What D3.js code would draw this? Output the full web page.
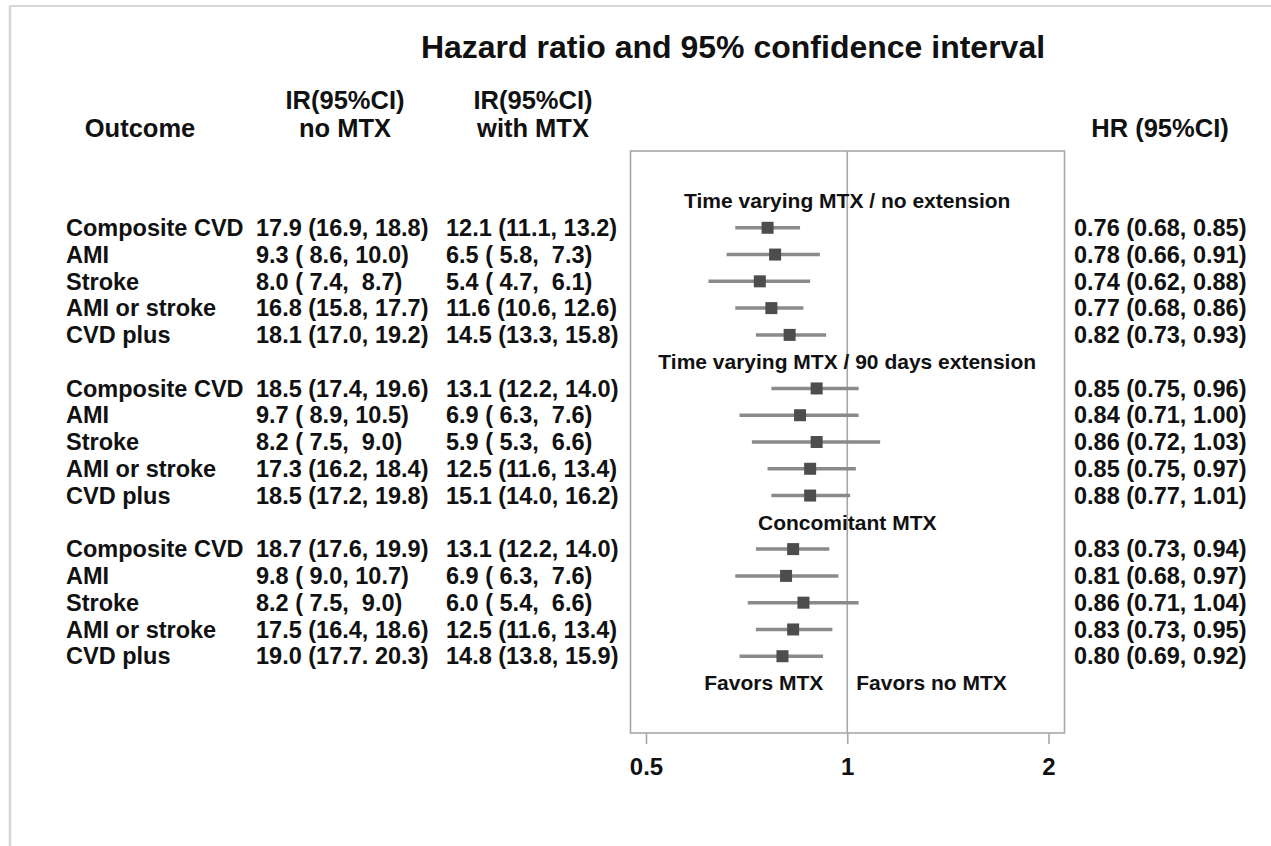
<!DOCTYPE html>
<html>
<head>
<meta charset="utf-8">
<script src="https://cdn.jsdelivr.net/npm/d3@7"></script>
<style>
  html, body { margin: 0; padding: 0; background: #ffffff; }
  svg text { font-family: "Liberation Sans", Arial, sans-serif; font-weight: bold; fill: #111; white-space: pre; }
</style>
</head>
<body>
<svg id="chart" width="1271" height="846"></svg>
<script>
// ---- data ----
const title = "Hazard ratio and 95% confidence interval";
const outcomes = ["Composite CVD", "AMI", "Stroke", "AMI or stroke", "CVD plus"];
const groups = ["Time varying MTX / no extension", "Time varying MTX / 90 days extension", "Concomitant MTX"];

const irNoMtx = [
  ["17.9 (16.9, 18.8)", "9.3 ( 8.6, 10.0)", "8.0 ( 7.4,  8.7)", "16.8 (15.8, 17.7)", "18.1 (17.0, 19.2)"],
  ["18.5 (17.4, 19.6)", "9.7 ( 8.9, 10.5)", "8.2 ( 7.5,  9.0)", "17.3 (16.2, 18.4)", "18.5 (17.2, 19.8)"],
  ["18.7 (17.6, 19.9)", "9.8 ( 9.0, 10.7)", "8.2 ( 7.5,  9.0)", "17.5 (16.4, 18.6)", "19.0 (17.7. 20.3)"]
];
const irWithMtx = [
  ["12.1 (11.1, 13.2)", "6.5 ( 5.8,  7.3)", "5.4 ( 4.7,  6.1)", "11.6 (10.6, 12.6)", "14.5 (13.3, 15.8)"],
  ["13.1 (12.2, 14.0)", "6.9 ( 6.3,  7.6)", "5.9 ( 5.3,  6.6)", "12.5 (11.6, 13.4)", "15.1 (14.0, 16.2)"],
  ["13.1 (12.2, 14.0)", "6.9 ( 6.3,  7.6)", "6.0 ( 5.4,  6.6)", "12.5 (11.6, 13.4)", "14.8 (13.8, 15.9)"]
];
const hrLabels = [
  ["0.76 (0.68, 0.85)", "0.78 (0.66, 0.91)", "0.74 (0.62, 0.88)", "0.77 (0.68, 0.86)", "0.82 (0.73, 0.93)"],
  ["0.85 (0.75, 0.96)", "0.84 (0.71, 1.00)", "0.86 (0.72, 1.03)", "0.85 (0.75, 0.97)", "0.88 (0.77, 1.01)"],
  ["0.83 (0.73, 0.94)", "0.81 (0.68, 0.97)", "0.86 (0.71, 1.04)", "0.83 (0.73, 0.95)", "0.80 (0.69, 0.92)"]
];
// plotted estimates [hr, lower, upper] as drawn in the picture
const hrPoint = [
  [0.76, 0.78, 0.74, 0.77, 0.82],
  [0.90, 0.85, 0.90, 0.88, 0.88],
  [0.83, 0.81, 0.86, 0.83, 0.80]
];
const hrLower = [
  [0.68, 0.66, 0.62, 0.68, 0.73],
  [0.77, 0.69, 0.72, 0.76, 0.77],
  [0.73, 0.68, 0.71, 0.73, 0.69]
];
const hrUpper = [
  [0.85, 0.91, 0.88, 0.86, 0.93],
  [1.04, 1.04, 1.12, 1.03, 1.01],
  [0.94, 0.97, 1.04, 0.95, 0.92]
];
const tickValues = [0.5, 1, 2];
const favorLabels = ["Favors MTX", "Favors no MTX"];

// ---- layout ----
const svg = d3.select("#chart");
const x = d3.scaleLog().domain([0.5, 2]).range([646, 1048.5]);
const slot = d3.scaleLinear().domain([0, 18]).range([201, 683]);
const frame = { left: x(0.5) - 15.5, right: x(2) + 16, top: 151, bottom: 733 };
const colLabel = 66, colIr1 = 256, colIr2 = 446, colHr = 1074;

// outer image border
svg.append("line").attr("x1", 9).attr("x2", 1271).attr("y1", 6).attr("y2", 6)
  .attr("stroke", "#d6d6d6").attr("stroke-width", 2);
svg.append("line").attr("x1", 10).attr("x2", 10).attr("y1", 6).attr("y2", 846)
  .attr("stroke", "#d6d6d6").attr("stroke-width", 2.5);

// title
svg.append("text").attr("x", 733).attr("y", 58).attr("text-anchor", "middle")
  .style("font-size", "32px").text(title);

// column headers
const hdr = svg.append("g").style("font-size", "25.5px").attr("text-anchor", "middle");
hdr.append("text").attr("x", 140).attr("y", 136.5).text("Outcome");
hdr.append("text").attr("x", 345).attr("y", 108.5).text("IR(95%CI)");
hdr.append("text").attr("x", 345).attr("y", 136.5).text("no MTX");
hdr.append("text").attr("x", 533).attr("y", 108.5).text("IR(95%CI)");
hdr.append("text").attr("x", 533).attr("y", 136.5).text("with MTX");
hdr.append("text").attr("x", 1160).attr("y", 136.5).text("HR (95%CI)");

// plot frame
svg.append("rect").attr("x", frame.left).attr("y", frame.top)
  .attr("width", frame.right - frame.left).attr("height", frame.bottom - frame.top)
  .attr("fill", "none").attr("stroke", "#a8a8a8").attr("stroke-width", 1.6);
svg.append("line").attr("x1", x(1)).attr("x2", x(1)).attr("y1", frame.top).attr("y2", frame.bottom)
  .attr("stroke", "#a8a8a8").attr("stroke-width", 1.6);

// axis
const axis = svg.append("g").attr("transform", `translate(0,${frame.bottom})`)
  .call(d3.axisBottom(x).tickValues(tickValues).tickFormat(d => String(d)).tickSize(11).tickPadding(14));
axis.select(".domain").remove();
axis.selectAll(".tick line").attr("stroke", "#a8a8a8").attr("stroke-width", 1.6);
axis.selectAll(".tick text").style("font-size", "24px").style("font-family", "Liberation Sans, Arial, sans-serif")
  .style("font-weight", "bold").attr("fill", "#111");

// rows
const rows = [];
groups.forEach((g, gi) => {
  outcomes.forEach((o, oi) => {
    rows.push({
      gi, oi, slot: gi * 6 + 1 + oi, outcome: o,
      ir1: irNoMtx[gi][oi], ir2: irWithMtx[gi][oi], hr: hrLabels[gi][oi],
      est: hrPoint[gi][oi], lo: hrLower[gi][oi], hi: hrUpper[gi][oi]
    });
  });
});

// group headers
svg.append("g").selectAll("text").data(groups).join("text")
  .attr("x", x(1)).attr("y", (d, i) => slot(i * 6)).attr("dy", "0.35em")
  .attr("text-anchor", "middle").style("font-size", "21px").text(d => d);

const rowText = svg.append("g").style("font-size", "23.5px");
rowText.selectAll(".lab").data(rows).join("text").attr("class", "lab")
  .attr("x", colLabel).attr("y", d => slot(d.slot)).attr("dy", "0.35em").text(d => d.outcome);
rowText.selectAll(".ir1").data(rows).join("text").attr("class", "ir1")
  .attr("x", colIr1).attr("y", d => slot(d.slot)).attr("dy", "0.35em").text(d => d.ir1);
rowText.selectAll(".ir2").data(rows).join("text").attr("class", "ir2")
  .attr("x", colIr2).attr("y", d => slot(d.slot)).attr("dy", "0.35em").text(d => d.ir2);
rowText.selectAll(".hr").data(rows).join("text").attr("class", "hr")
  .attr("x", colHr).attr("y", d => slot(d.slot)).attr("dy", "0.35em").text(d => d.hr);

// CI lines and markers
const marks = svg.append("g");
marks.selectAll(".ci").data(rows).join("line").attr("class", "ci")
  .attr("x1", d => x(d.lo)).attr("x2", d => x(d.hi))
  .attr("y1", d => slot(d.slot)).attr("y2", d => slot(d.slot))
  .attr("stroke", "#8a8a8a").attr("stroke-width", 3.5);
const sq = 12;
marks.selectAll(".pt").data(rows).join("rect").attr("class", "pt")
  .attr("x", d => x(d.est) - sq / 2).attr("y", d => slot(d.slot) - sq / 2)
  .attr("width", sq).attr("height", sq).attr("fill", "#4d4d4d");

// favors labels
svg.append("text").attr("x", x(1) - 24).attr("y", slot(18)).attr("dy", "0.35em")
  .attr("text-anchor", "end").style("font-size", "21px").text(favorLabels[0]);
svg.append("text").attr("x", x(1) + 9).attr("y", slot(18)).attr("dy", "0.35em")
  .attr("text-anchor", "start").style("font-size", "21px").text(favorLabels[1]);
</script>
</body>
</html>
